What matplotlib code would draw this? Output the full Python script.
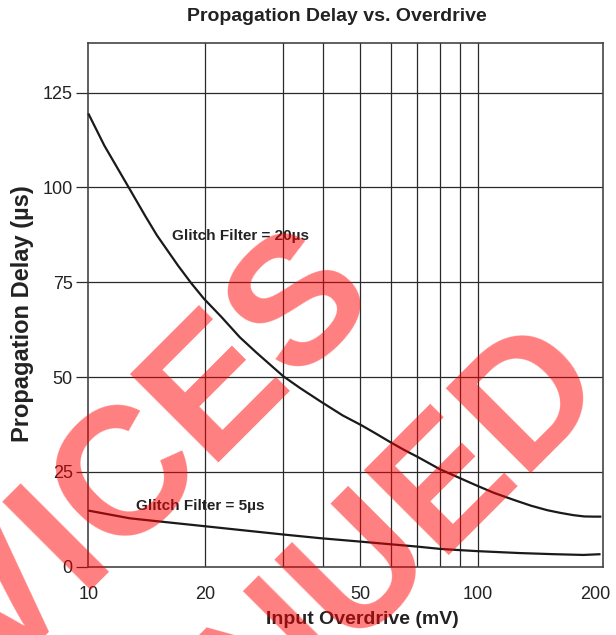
import matplotlib
matplotlib.use('Agg')
import matplotlib.pyplot as plt
from matplotlib.ticker import FixedLocator, NullFormatter

plt.rcParams['font.family'] = ['Liberation Sans', 'DejaVu Sans']

# ---- text ----
title = "Propagation Delay vs. Overdrive"
xlabel = "Input Overdrive (mV)"
ylabel = "Propagation Delay (µs)"
label_20us = "Glitch Filter = 20µs"
label_5us = "Glitch Filter = 5µs"
watermark_lines = ["DEVICES", "DISCONTINUED"]

# ---- axes ticks / grid ----
x_ticks = [10, 20, 50, 100, 200]
x_ticklabels = ["10", "20", "50", "100", "200"]
y_ticks = [0, 25, 50, 75, 100, 125]
x_grid = [20, 31.6, 40, 50, 60, 70, 80, 90, 100]

# ---- series ----
x_20us = [10, 11, 12.7, 14, 15, 17, 18.4, 19.8, 22, 24.5, 27, 31.7, 35, 39.6,
          45, 50.5, 55, 60, 65, 70, 75, 80, 85, 89, 95, 100, 110, 124, 137,
          151, 163, 176, 188, 199, 208]
y_20us = [119.5, 111.0, 100.0, 92.5, 87.4, 79.4, 74.7, 70.7, 65.8, 60.5, 56.5,
          50.2, 47.1, 43.5, 39.9, 37.2, 35.0, 32.7, 30.7, 29.0, 27.3, 25.7,
          24.5, 23.6, 22.3, 21.3, 19.5, 17.6, 16.1, 14.9, 14.2, 13.6, 13.25,
          13.2, 13.2]

x_5us = [10, 12.8, 15, 19.8, 25, 31.6, 39.6, 50.2, 60, 70, 80, 89, 100, 128,
         157, 187, 207]
y_5us = [14.8, 12.75, 12.0, 10.7, 9.6, 8.5, 7.5, 6.6, 5.9, 5.3, 4.7, 4.4, 4.1,
         3.6, 3.3, 3.1, 3.3]

fig = plt.figure(figsize=(6.16, 6.35), dpi=100)
ax = fig.add_axes([88.3 / 616, 1 - 566.7 / 635, (603 - 88.3) / 616, (566.7 - 43.3) / 635])
ax.set_xscale('log')
ax.set_xlim(10, 210)
ax.set_ylim(0, 138)

grid_color = '#2a2a2a'
for gx in x_grid:
    ax.axvline(gx, color=grid_color, lw=0.9, zorder=1)
for gy in y_ticks[1:]:
    ax.axhline(gy, color=grid_color, lw=0.9, zorder=1)

ax.plot(x_20us, y_20us, color='#1a1a1a', lw=1.6, zorder=3, clip_on=False,
        solid_capstyle='butt')
ax.plot(x_5us, y_5us, color='#1a1a1a', lw=1.6, zorder=3, clip_on=False,
        solid_capstyle='butt')

ax.set_xticks(x_ticks)
ax.set_xticklabels(x_ticklabels)
ax.xaxis.set_minor_locator(FixedLocator([100]))
ax.xaxis.set_minor_formatter(NullFormatter())
ax.set_yticks(y_ticks)
ax.tick_params(axis='x', which='major', length=0, pad=14, labelsize=13,
               labelcolor='#222222')
ax.tick_params(axis='x', which='minor', length=10, width=0.9, color=grid_color)
ax.tick_params(axis='y', which='major', length=8.5, width=0.9, pad=2.7,
               labelsize=13, color=grid_color, labelcolor='#222222')

for s in ax.spines.values():
    s.set_color('#444444')
    s.set_linewidth(1.2)

ax.text(16.38, 87.1, label_20us, fontsize=11, fontweight='bold', ha='left',
        va='center', color='#222222', zorder=4)
ax.text(13.26, 16.1, label_5us, fontsize=11, fontweight='bold', ha='left',
        va='center', color='#222222', zorder=4)

fig.text(337.3 / 616, 1 - 16.7 / 635, title, ha='center', va='center',
         fontsize=14, fontweight='bold', color='#222222')
fig.text(362.7 / 616, 1 - 619 / 635, xlabel, ha='center', va='center',
         fontsize=14, fontweight='bold', color='#222222')
fig.text(22.5 / 616, 1 - 314 / 635, ylabel, ha='center', va='center',
         rotation=90, fontsize=17, fontweight='bold', color='#222222')

# diagonal watermark
fig.text(378 / 616, 1 - 291 / 635, watermark_lines[0], rotation=45,
         rotation_mode='anchor', ha='right', va='baseline', fontsize=130,
         fontweight='bold', color='red', alpha=0.5, zorder=10)
fig.text(609 / 616, 1 - 384 / 635, watermark_lines[1], rotation=45,
         rotation_mode='anchor', ha='right', va='baseline', fontsize=125,
         fontweight='bold', color='red', alpha=0.5, zorder=10)

fig.savefig('out.png', dpi=100)
